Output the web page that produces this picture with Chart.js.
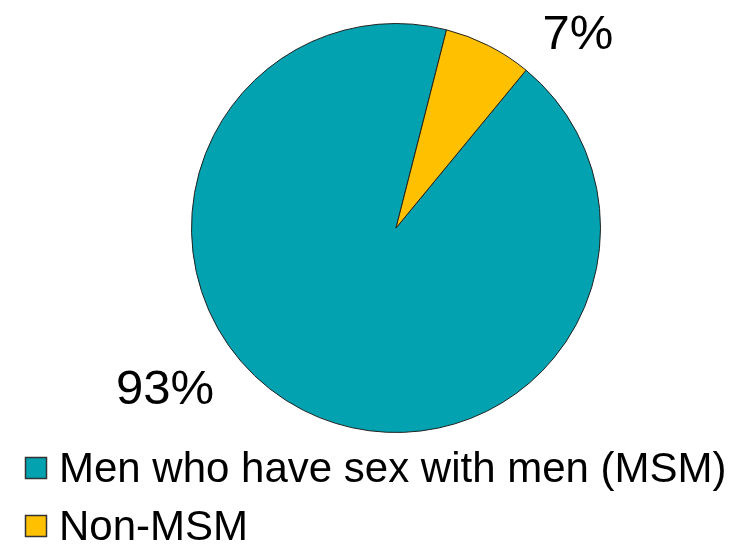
<!DOCTYPE html>
<html>
<head>
<meta charset="utf-8">
<script src="https://cdn.jsdelivr.net/npm/chart.js@4.4.0/dist/chart.umd.min.js"></script>
<style>
html,body{margin:0;padding:0;background:#fff;}
#wrap{width:737px;height:545px;position:relative;}
</style>
</head>
<body>
<div id="wrap"><canvas id="c" width="737" height="545"></canvas></div>
<script>
const categories = ["Men who have sex with men (MSM)", "Non-MSM"];
const values = [93, 7];
const valueLabels = ["93%", "7%"];
const colors = ["#03A2B0", "#FFC000"];

const labelPlugin = {
  id: 'labelPlugin',
  afterDraw(chart) {
    const ctx = chart.ctx;
    const meta = chart.getDatasetMeta(0);
    const arc = meta.data[0];
    const cx = arc.x, cy = arc.y, r = arc.outerRadius;
    // label offsets relative to centre, in radius units
    const offs = [[-1.13, 0.795], [0.89, -0.941]];
    ctx.save();
    ctx.fillStyle = '#000';
    ctx.font = '49px "Liberation Sans", Arial, sans-serif';
    ctx.textAlign = 'center';
    ctx.textBaseline = 'middle';
    valueLabels.forEach((t, i) => {
      ctx.fillText(t, cx + offs[i][0] * r, cy + offs[i][1] * r);
    });
    // legend
    ctx.font = '42px "Liberation Sans", Arial, sans-serif';
    ctx.textAlign = 'left';
    ctx.textBaseline = 'alphabetic';
    categories.forEach((t, i) => {
      const base = 482 + i * 58;
      ctx.fillStyle = colors[i];
      ctx.fillRect(25.5, base - 24.5, 21, 21);
      ctx.strokeStyle = '#333';
      ctx.lineWidth = 1.5;
      ctx.strokeRect(25.5, base - 24.5, 21, 21);
      ctx.fillStyle = '#000';
      ctx.fillText(t, 59, base);
    });
    ctx.restore();
  }
};

new Chart(document.getElementById('c'), {
  type: 'pie',
  data: {
    labels: categories,
    datasets: [{
      data: values,
      backgroundColor: colors,
      borderColor: '#222',
      borderWidth: 1
    }]
  },
  options: {
    responsive: false,
    animation: false,
    rotation: 39.5,
    layout: { padding: { left: 191, right: 136, top: 23, bottom: 112 } },
    plugins: { legend: { display: false }, tooltip: { enabled: false } }
  },
  plugins: [labelPlugin]
});
</script>
</body>
</html>
